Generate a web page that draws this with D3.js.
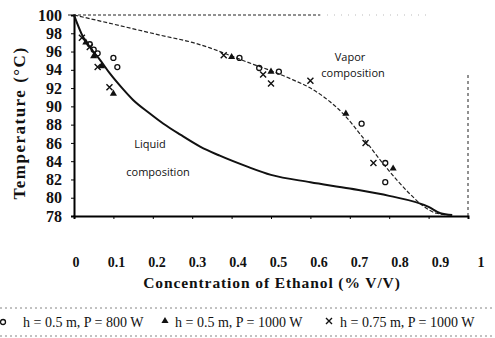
<!DOCTYPE html>
<html>
<head>
<meta charset="utf-8">
<script src="https://cdn.jsdelivr.net/npm/d3@7"></script>
<style>
  body { margin: 0; background: #fff; }
  text { font-family: "Liberation Serif", "DejaVu Serif", serif; fill: #111; }
  text.note { font-family: "Open Sans", "Liberation Sans", sans-serif; }
</style>
</head>
<body>
<div id="chart"></div>
<script>
// x ticks and y ticks
var xTicks = [0, 0.1, 0.2, 0.3, 0.4, 0.5, 0.6, 0.7, 0.8, 0.9, 1];
var xTickLabels = ["0", "0.1", "0.2", "0.3", "0.4", "0.5", "0.6", "0.7", "0.8", "0.9", "1"];
var yTicks = [78, 80, 82, 84, 86, 88, 90, 92, 94, 96, 98, 100];

// liquid composition curve (solid)
var liqX = [0, 0.023, 0.045, 0.066, 0.091, 0.12, 0.15, 0.19, 0.227, 0.27, 0.32, 0.37, 0.44, 0.5, 0.6, 0.7, 0.8, 0.9, 0.93, 0.96];
var liqT = [100, 97.6, 96.2, 95.1, 93.6, 92.1, 90.7, 89.3, 88.1, 86.9, 85.6, 84.6, 83.4, 82.5, 81.7, 81.0, 80.2, 79.0, 78.3, 78.1];

// vapor composition curve (dashed)
var vapX = [0, 0.1, 0.218, 0.3, 0.345, 0.4, 0.455, 0.5, 0.556, 0.6, 0.65, 0.683, 0.733, 0.785, 0.853, 0.886, 0.92, 0.96];
var vapT = [100, 99.0, 97.8, 97.0, 96.4, 95.5, 94.6, 93.9, 92.9, 92.0, 90.5, 89.2, 86.6, 83.7, 80.4, 79.1, 78.3, 78.1];

// h = 0.5 m, P = 800 W (circles)
var s1X = [0.04, 0.05, 0.06, 0.10, 0.11, 0.42, 0.47, 0.52, 0.73, 0.79, 0.79];
var s1T = [96.8, 96.2, 95.8, 95.3, 94.3, 95.3, 94.2, 93.8, 88.1, 83.8, 81.7];
// h = 0.5 m, P = 1000 W (triangles)
var s2X = [0.03, 0.05, 0.07, 0.10, 0.40, 0.50, 0.69, 0.81];
var s2T = [97.0, 95.5, 94.4, 91.4, 95.4, 93.8, 89.2, 83.2];
// h = 0.75 m, P = 1000 W (crosses)
var s3X = [0.02, 0.04, 0.06, 0.09, 0.38, 0.48, 0.50, 0.60, 0.74, 0.76];
var s3T = [97.5, 96.5, 94.3, 92.1, 95.6, 93.5, 92.5, 92.8, 86.0, 83.8];

var legendLabels = ["h = 0.5 m, P = 800 W", "h = 0.5 m, P = 1000 W", "h = 0.75 m, P = 1000 W"];

var width = 495, height = 338;
var svg = d3.select("#chart").append("svg").attr("width", width).attr("height", height);

var x = d3.scaleLinear().domain([0, 1]).range([74, 468]);
var xLab = d3.scaleLinear().domain([0, 1]).range([76, 481]);
var y = d3.scaleLinear().domain([78, 100]).range([216, 15]);

// frame (dotted top + right)
svg.append("line").attr("x1", 68).attr("x2", 320).attr("y1", y(100)).attr("y2", y(100))
   .attr("stroke", "#222").attr("stroke-width", 1).attr("stroke-dasharray", "3,2");
svg.append("line").attr("x1", 320).attr("x2", 430).attr("y1", y(100)).attr("y2", y(100))
   .attr("stroke", "#aaa").attr("stroke-width", 0.8).attr("stroke-dasharray", "1,6");
svg.append("line").attr("x1", x(1)).attr("x2", x(1)).attr("y1", 75).attr("y2", y(78))
   .attr("stroke", "#222").attr("stroke-width", 1).attr("stroke-dasharray", "3,3");

// axes
var yAxis = svg.append("g").attr("transform", "translate(" + x(0) + ",0)")
   .call(d3.axisLeft(y).tickValues(yTicks).tickSize(3).tickFormat(d3.format("d")));
yAxis.select(".domain").attr("stroke-width", 2);
yAxis.selectAll("text").attr("x", -12).style("font-size", "16px").style("font-weight", "bold");

var xAxis = svg.append("g").attr("transform", "translate(0," + y(78) + ")")
   .call(d3.axisBottom(x).tickValues(xTicks).tickSize(3).tickFormat(""));
xAxis.select(".domain").attr("stroke-width", 2);

// x tick labels, set well below the axis as in the original
svg.append("g").selectAll("text").data(xTicks).enter().append("text")
   .attr("x", function(d){ return xLab(d); }).attr("y", 267).attr("text-anchor", "middle")
   .style("font-size", "14px").style("font-weight", "bold")
   .text(function(d, i){ return xTickLabels[i]; });

// axis titles
svg.append("text").attr("x", 272).attr("y", 288).attr("text-anchor", "middle")
   .style("font-size", "15.5px").style("font-weight", "bold").style("letter-spacing", "0.9px")
   .text("Concentration of Ethanol (% V/V)");
svg.append("text").attr("transform", "translate(25,123) rotate(-90)").attr("text-anchor", "middle")
   .style("font-size", "17px").style("font-weight", "bold").style("letter-spacing", "1.5px")
   .text("Temperature (°C)");

// curves
var line = d3.line().x(function(d){ return x(d[0]); }).y(function(d){ return y(d[1]); }).curve(d3.curveMonotoneX);
svg.append("path").datum(d3.zip(vapX, vapT)).attr("d", line)
   .attr("fill", "none").attr("stroke", "#222").attr("stroke-width", 1.2).attr("stroke-dasharray", "4,2");
svg.append("path").datum(d3.zip(liqX, liqT)).attr("d", line)
   .attr("fill", "none").attr("stroke", "#111").attr("stroke-width", 2);

// markers
function crossPath(s) { return "M" + (-s) + "," + (-s) + "L" + s + "," + s + "M" + (-s) + "," + s + "L" + s + "," + (-s); }
svg.append("g").selectAll("circle").data(d3.zip(s1X, s1T)).enter().append("circle")
   .attr("cx", function(d){ return x(d[0]); }).attr("cy", function(d){ return y(d[1]); })
   .attr("r", 2.5).attr("fill", "none").attr("stroke", "#111").attr("stroke-width", 1.3);
var tri = d3.symbol().type(d3.symbolTriangle).size(22);
svg.append("g").selectAll("path").data(d3.zip(s2X, s2T)).enter().append("path")
   .attr("transform", function(d){ return "translate(" + x(d[0]) + "," + y(d[1]) + ")"; })
   .attr("d", tri).attr("fill", "#111");
svg.append("g").selectAll("path").data(d3.zip(s3X, s3T)).enter().append("path")
   .attr("transform", function(d){ return "translate(" + x(d[0]) + "," + y(d[1]) + ")"; })
   .attr("d", crossPath(3)).attr("stroke", "#111").attr("stroke-width", 1.4);

// annotations
svg.append("text").attr("class", "note").attr("x", 350).attr("y", 61).attr("text-anchor", "middle").style("font-size", "11px").text("Vapor");
svg.append("text").attr("class", "note").attr("x", 353).attr("y", 77).attr("text-anchor", "middle").style("font-size", "11px").text("composition");
svg.append("text").attr("class", "note").attr("x", 150).attr("y", 148).attr("text-anchor", "middle").style("font-size", "11px").text("Liquid");
svg.append("text").attr("class", "note").attr("x", 158).attr("y", 176).attr("text-anchor", "middle").style("font-size", "11px").text("composition");

// legend
svg.append("line").attr("x1", 0).attr("x2", width).attr("y1", 308).attr("y2", 308)
   .attr("stroke", "#666").attr("stroke-width", 0.8).attr("stroke-dasharray", "2,3");
svg.append("line").attr("x1", 0).attr("x2", width).attr("y1", 336).attr("y2", 336)
   .attr("stroke", "#666").attr("stroke-width", 0.8).attr("stroke-dasharray", "2,3");
var legX = [3, 165, 329];
var legTextX = [23, 175, 340];
var lg = svg.append("g");
lg.append("circle").attr("cx", legX[0]).attr("cy", 322).attr("r", 2.5).attr("fill", "none").attr("stroke", "#111").attr("stroke-width", 1.3);
lg.append("path").attr("transform", "translate(" + legX[1] + ",321)").attr("d", tri).attr("fill", "#111");
lg.append("path").attr("transform", "translate(" + legX[2] + ",321)").attr("d", crossPath(3)).attr("stroke", "#111").attr("stroke-width", 1.4);
lg.selectAll("text").data(legendLabels).enter().append("text")
   .attr("x", function(d, i){ return legTextX[i]; }).attr("y", 327)
   .style("font-size", "14px").text(function(d){ return d; });
</script>
</body>
</html>
